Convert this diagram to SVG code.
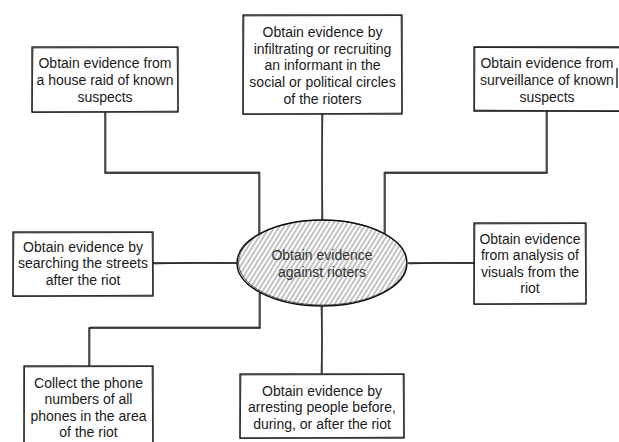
<svg xmlns="http://www.w3.org/2000/svg" width="619" height="442" viewBox="0 0 619 442">
<defs>
<pattern id="hatch" patternUnits="userSpaceOnUse" width="4" height="10" patternTransform="rotate(32)">
<line x1="1" y1="0" x2="1" y2="10" stroke="#777" stroke-width="0.9"/>
</pattern>
</defs>
<style>
.box{fill:#fff;stroke:#111;stroke-width:1.3}
.sk{fill:none;stroke:#111;stroke-width:0.8;opacity:0.8}
.ln{fill:none;stroke:#111;stroke-width:1.3}
.t{font-family:"Liberation Sans",Arial,sans-serif;font-size:14px;fill:#1a1a1a;text-anchor:middle}
.tc{font-family:"Liberation Sans",Arial,sans-serif;font-size:14px;fill:#333;text-anchor:middle}
</style>
<rect width="619" height="442" fill="#fff"/>
<g id="connectors">
<path class="ln" d="M105,112 V173 H259 V234"/>
<path class="sk" d="M106,113 V172 H260 V233"/>
<path class="ln" d="M322,114 V221"/>
<path class="sk" d="M323,115 Q321,160 323,220"/>
<path class="ln" d="M547,111 V173 H385 V234"/>
<path class="sk" d="M546,112 V172 H384 V233"/>
<path class="ln" d="M153,263 H237"/>
<path class="sk" d="M154,264 Q195,262 236,263"/>
<path class="ln" d="M408,263 H474"/>
<path class="sk" d="M409,264 Q440,262 473,263"/>
<path class="ln" d="M260,292 V328 H89 V366"/>
<path class="sk" d="M259,293 V327 H90 V365"/>
<path class="ln" d="M322,306 V374"/>
<path class="sk" d="M321,307 Q323,340 321,373"/>
</g>
<g id="center">
<ellipse cx="322" cy="263" rx="85" ry="43" fill="#fff"/>
<ellipse cx="322" cy="263" rx="85" ry="43" fill="url(#hatch)" stroke="#111" stroke-width="1.4"/>
<ellipse cx="322.5" cy="262.5" rx="84" ry="42.5" class="sk"/>
<text class="tc" x="322" y="260">Obtain evidence</text>
<text class="tc" x="322" y="277">against rioters</text>
</g>
<g id="n1">
<rect class="box" x="32" y="47" width="146" height="65"/>
<path class="sk" d="M33,48 L177,47.5 L178,111 L32,112.5 Z"/>
<text class="t" x="105" y="68">Obtain evidence from</text>
<text class="t" x="105" y="85">a house raid of known</text>
<text class="t" x="105" y="102">suspects</text>
</g>
<g id="n2">
<rect class="box" x="243" y="15" width="159" height="99"/>
<path class="sk" d="M244,16 L401,15.5 L402,113 L243,114.5 Z"/>
<text class="t" x="322.5" y="37">Obtain evidence by</text>
<text class="t" x="322.5" y="53.5">infiltrating or recruiting</text>
<text class="t" x="322.5" y="70">an informant in the</text>
<text class="t" x="322.5" y="87">social or political circles</text>
<text class="t" x="322.5" y="104">of the rioters</text>
</g>
<g id="n3">
<path class="box" d="M620,47 H474 V111 H620"/>
<path class="sk" d="M619,48 L475,47.5 L474.5,110 L619,111.5"/>
<path class="ln" d="M617,68 V88"/>
<text class="t" x="547" y="68">Obtain evidence from</text>
<text class="t" x="547" y="85">surveillance of known</text>
<text class="t" x="547" y="102">suspects</text>
</g>
<g id="n4">
<rect class="box" x="13" y="232" width="140" height="64"/>
<path class="sk" d="M14,233 L152,232.5 L153,295 L13,296.5 Z"/>
<text class="t" x="83" y="252">Obtain evidence by</text>
<text class="t" x="83" y="268">searching the streets</text>
<text class="t" x="83" y="285">after the riot</text>
</g>
<g id="n5">
<rect class="box" x="24" y="366" width="129" height="90"/>
<path class="sk" d="M25,367 L152,366.5 L153,455 M24,455 L24.5,367"/>
<text class="t" x="88.5" y="388">Collect the phone</text>
<text class="t" x="88.5" y="404">numbers of all</text>
<text class="t" x="88.5" y="421">phones in the area</text>
<text class="t" x="88.5" y="437">of the riot</text>
</g>
<g id="n6">
<rect class="box" x="240" y="374" width="164" height="64"/>
<path class="sk" d="M241,375 L403,374.5 L404,437 L240,438.5 Z"/>
<text class="t" x="322" y="396">Obtain evidence by</text>
<text class="t" x="322" y="412">arresting people before,</text>
<text class="t" x="322" y="429">during, or after the riot</text>
</g>
<g id="n7">
<rect class="box" x="474" y="223" width="112" height="81"/>
<path class="sk" d="M475,224 L585,223.5 L586,303 L474,304.5 Z"/>
<text class="t" x="530" y="244">Obtain evidence</text>
<text class="t" x="530" y="260">from analysis of</text>
<text class="t" x="530" y="277">visuals from the</text>
<text class="t" x="530" y="293">riot</text>
</g>
</svg>
